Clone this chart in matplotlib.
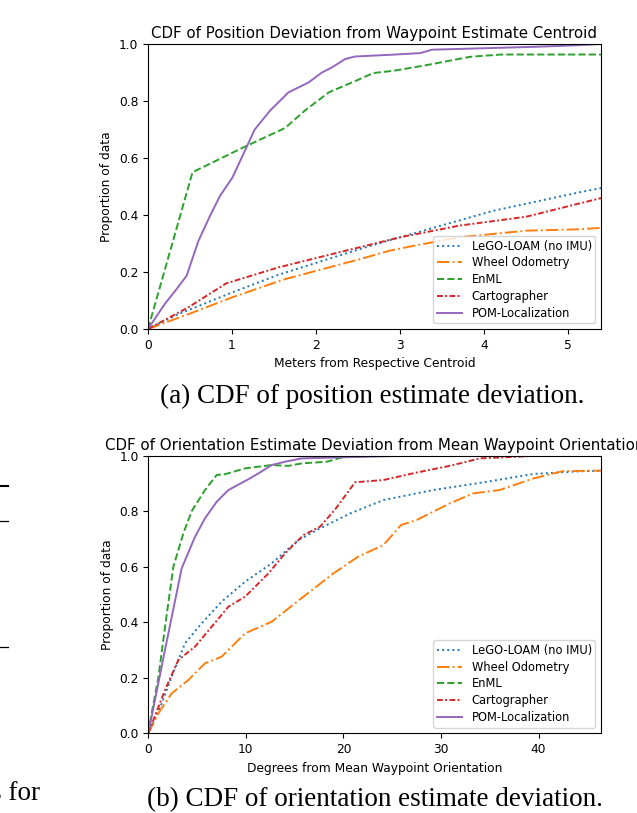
import matplotlib
matplotlib.use('Agg')
import matplotlib.pyplot as plt
from matplotlib.lines import Line2D

# ---- position deviation (meters) ----
pos_lego_x = [0, 0.36, 1.0, 1.55, 2.58, 3.0, 4.11, 5.14, 5.4]
pos_lego_y = [0, 0.052, 0.128, 0.19, 0.286, 0.322, 0.415, 0.48, 0.495]
pos_wheel_x = [0, 0.48, 1.0, 1.63, 2.52, 2.88, 3.16, 3.71, 4.5, 5.14, 5.4]
pos_wheel_y = [0, 0.052, 0.111, 0.175, 0.245, 0.275, 0.292, 0.322, 0.345, 0.35, 0.355]
pos_enml_x = [0, 0.53, 1.155, 1.63, 1.87, 2.15, 2.52, 2.68, 2.92, 3.3, 3.83, 4.2, 5.4]
pos_enml_y = [0, 0.55, 0.64, 0.705, 0.767, 0.83, 0.877, 0.898, 0.906, 0.925, 0.955, 0.963, 0.963]
pos_carto_x = [0, 0.48, 0.93, 1.55, 2.52, 3.0, 3.71, 4.5, 5.14, 5.4]
pos_carto_y = [0, 0.076, 0.16, 0.216, 0.287, 0.322, 0.363, 0.394, 0.441, 0.46]
pos_pom_x = [0, 0.2, 0.34, 0.46, 0.6, 0.738, 0.857, 1.004, 1.135, 1.27, 1.452, 1.67, 1.91,
             2.07, 2.19, 2.345, 2.46, 2.88, 3.24, 3.38, 4.11, 4.59, 5.06, 5.4]
pos_pom_y = [0, 0.088, 0.14, 0.187, 0.309, 0.397, 0.467, 0.531, 0.614, 0.70, 0.766, 0.83, 0.865,
             0.90, 0.918, 0.947, 0.956, 0.962, 0.968, 0.98, 0.986, 0.99, 0.995, 1.0]

# ---- orientation deviation (degrees) ----
ori_lego_x = [0, 1.37, 2.4, 3.76, 5.47, 7.52, 9.92, 12.65, 15.39, 17.6, 20.7, 24.1, 29.2, 34.4, 39.5, 44.5, 46.4]
ori_lego_y = [0, 0.107, 0.204, 0.324, 0.396, 0.474, 0.546, 0.612, 0.696, 0.738, 0.792, 0.84, 0.876, 0.904, 0.934, 0.944, 0.945]
ori_wheel_x = [0, 1.03, 2.4, 4.1, 5.81, 7.52, 9.92, 12.65, 15.9, 18.98, 21.5, 24.1, 25.9, 27.5,
               30.9, 33.3, 36.0, 39.5, 42.5, 46.4]
ori_wheel_y = [0, 0.072, 0.144, 0.192, 0.252, 0.276, 0.36, 0.402, 0.492, 0.576, 0.636, 0.678, 0.75, 0.768,
               0.828, 0.864, 0.876, 0.918, 0.944, 0.946]
ori_enml_x = [0, 0.34, 1.03, 1.78, 2.57, 3.59, 4.45, 5.81, 7.0, 7.86, 9.92, 12.65, 14.36, 15.73,
              18.3, 19.9, 21.7, 24, 46.4]
ori_enml_y = [0, 0.072, 0.2, 0.4, 0.6, 0.72, 0.8, 0.876, 0.93, 0.933, 0.954, 0.966, 0.963, 0.972,
              0.978, 0.994, 0.998, 1.0, 1.0]
ori_carto_x = [0, 1.71, 3.08, 4.79, 6.5, 8.21, 9.92, 12.31, 14.02, 15.9, 17.6, 19.1, 21.2, 24.1,
               27.5, 30.9, 34.0, 37.8, 40, 46.4]
ori_carto_y = [0, 0.156, 0.264, 0.312, 0.384, 0.456, 0.492, 0.576, 0.648, 0.714, 0.744, 0.804, 0.904, 0.912,
               0.939, 0.963, 0.99, 0.996, 1.0, 1.0]
ori_pom_x = [0, 1.71, 3.42, 4.79, 5.81, 7.01, 8.21, 10.26, 11.29, 12.65, 14.02, 15.73, 20, 25.8, 27, 46.4]
ori_pom_y = [0, 0.30, 0.594, 0.708, 0.774, 0.834, 0.876, 0.915, 0.936, 0.966, 0.978, 0.99, 0.994, 0.999, 1.0, 1.0]

labels = ['LeGO-LOAM (no IMU)', 'Wheel Odometry', 'EnML', 'Cartographer', 'POM-Localization']
colors = ['tab:blue', 'tab:orange', 'tab:green', 'tab:red', 'tab:purple']
styles = [':', '-.', '--', (0, (3, 1.2, 1, 1.2)), '-']

fs = 8.8
fig = plt.figure(figsize=(6.37, 8.13), dpi=100)

def draw(ax, series, xmax, xlabel, title):
    for (x, y), lab, c, ls in zip(series, labels, colors, styles):
        ax.plot(x, y, color=c, linestyle=ls, linewidth=1.4, label=lab)
    ax.set_xlim(0, xmax)
    ax.set_ylim(0, 1.0)
    ax.set_xlabel(xlabel, fontsize=fs)
    ax.set_ylabel('Proportion of data', fontsize=fs)
    ax.set_title(title, fontsize=10.8, pad=4)
    ax.tick_params(labelsize=fs, length=3.5)
    ax.legend(loc='lower right', fontsize=8.3, handlelength=2.2, borderpad=0.3, labelspacing=0.33)

ax1 = fig.add_axes([0.2323, 0.5953, 0.7112, 0.3506])
draw(ax1, [(pos_lego_x, pos_lego_y), (pos_wheel_x, pos_wheel_y), (pos_enml_x, pos_enml_y),
           (pos_carto_x, pos_carto_y), (pos_pom_x, pos_pom_y)],
     5.39, 'Meters from Respective Centroid', 'CDF of Position Deviation from Waypoint Estimate Centroid')

ax2 = fig.add_axes([0.2328, 0.098, 0.7107, 0.3416])
draw(ax2, [(ori_lego_x, ori_lego_y), (ori_wheel_x, ori_wheel_y), (ori_enml_x, ori_enml_y),
           (ori_carto_x, ori_carto_y), (ori_pom_x, ori_pom_y)],
     46.4, 'Degrees from Mean Waypoint Orientation',
     'CDF of Orientation Estimate Deviation from Mean Waypoint Orientation')

# captions
fig.text(372 / 637, 1 - 403 / 813, '(a) CDF of position estimate deviation.', family='Liberation Serif',
         fontsize=19.5, ha='center', va='baseline')
fig.text(375 / 637, 1 - 806 / 813, '(b) CDF of orientation estimate deviation.', family='Liberation Serif',
         fontsize=19.5, ha='center', va='baseline')

# bits of the neighbouring column
for yy, lw in [(486, 1.5), (521, 0.9), (647, 0.9)]:
    fig.add_artist(Line2D([0, 8 / 637], [1 - yy / 813] * 2, color='black', linewidth=lw))
fig.text(-9 / 637, 1 - 800 / 813, 's for', family='Liberation Serif', fontsize=19.5, ha='left', va='baseline')

fig.savefig('out.png', dpi=100)
